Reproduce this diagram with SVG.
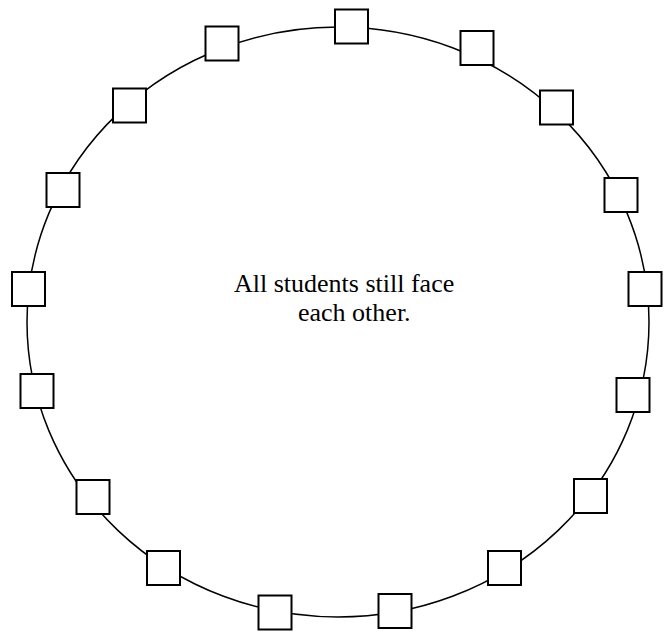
<svg xmlns="http://www.w3.org/2000/svg" width="665" height="632" viewBox="0 0 665 632">
<style>
.seat{fill:#fff;stroke:#000;stroke-width:2}
.ring{fill:none;stroke:#000;stroke-width:1.5}
.lbl{font-family:"Liberation Serif","Times New Roman",serif;font-size:26px;fill:#000}
</style>
<rect width="665" height="632" fill="#fff"/>
<g id="connectors">
<ellipse class="ring" cx="338" cy="322" rx="311" ry="295"/>
</g>
<g id="seat1"><rect class="seat" x="335" y="9.5" width="33" height="34"/></g>
<g id="seat2"><rect class="seat" x="460.5" y="31" width="33" height="34"/></g>
<g id="seat3"><rect class="seat" x="540" y="90.5" width="33" height="34"/></g>
<g id="seat4"><rect class="seat" x="604.5" y="178" width="33" height="34"/></g>
<g id="seat5"><rect class="seat" x="628.5" y="272" width="33" height="34"/></g>
<g id="seat6"><rect class="seat" x="616.5" y="378" width="33" height="34"/></g>
<g id="seat7"><rect class="seat" x="574" y="479" width="33" height="34"/></g>
<g id="seat8"><rect class="seat" x="488" y="551" width="33" height="34"/></g>
<g id="seat9"><rect class="seat" x="378.5" y="594" width="33" height="34"/></g>
<g id="seat10"><rect class="seat" x="258.5" y="595.5" width="33" height="34"/></g>
<g id="seat11"><rect class="seat" x="147" y="551" width="33" height="34"/></g>
<g id="seat12"><rect class="seat" x="76.5" y="480" width="33" height="34"/></g>
<g id="seat13"><rect class="seat" x="20.5" y="374" width="33" height="34"/></g>
<g id="seat14"><rect class="seat" x="12" y="272" width="33" height="34"/></g>
<g id="seat15"><rect class="seat" x="46.5" y="173" width="33" height="34"/></g>
<g id="seat16"><rect class="seat" x="113" y="88.5" width="33" height="34"/></g>
<g id="seat17"><rect class="seat" x="205.5" y="26.5" width="33" height="34"/></g>
<g id="label">
<text class="lbl" x="234" y="292">All students still face</text>
<text class="lbl" x="298" y="321">each other.</text>
</g>
</svg>
